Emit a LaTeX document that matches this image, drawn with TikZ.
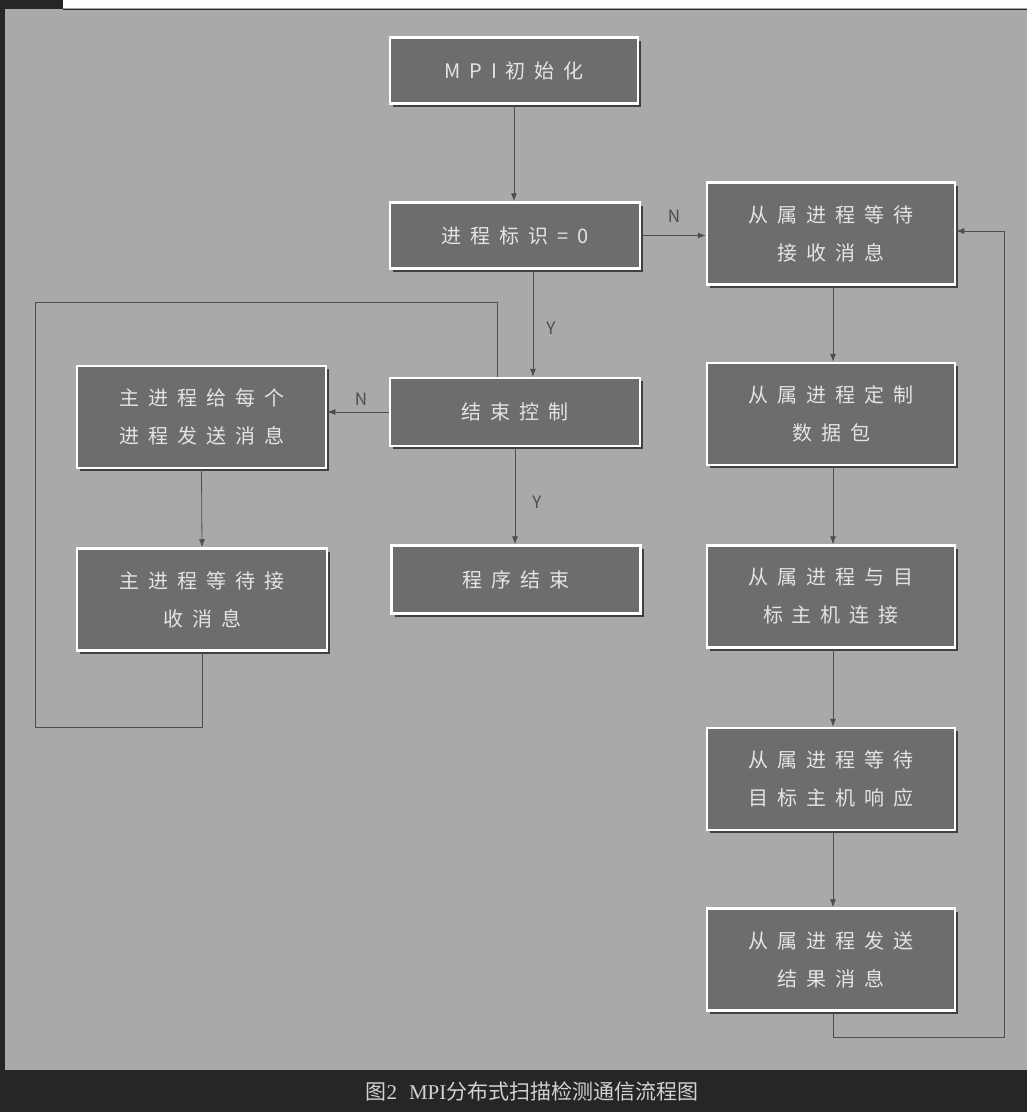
\documentclass[tikz,border=0pt]{standalone}
\usepackage{fontspec}
\newfontfamily\cjk{Noto Sans CJK SC}
\newfontfamily\capser{Liberation Serif}
\usetikzlibrary{arrows.meta,shadows}
\newlength\sprgap \setlength\sprgap{9pt}
\makeatletter
\newcommand\spr[1]{\@tfor\sprch:=#1\do{\sprch\hspace{\sprgap}}\unskip}
\makeatother
\definecolor{bggray}{HTML}{A9A9A9}
\definecolor{boxfill}{HTML}{6D6D6D}
\definecolor{boxtext}{HTML}{E4E4E4}
\definecolor{linec}{HTML}{4E4E4E}
\definecolor{darkband}{HTML}{262626}
\definecolor{captext}{HTML}{D2D2D2}
\begin{document}
\begin{tikzpicture}[x=1pt,y=-1pt,
  box/.style={draw=white, line width=2.5pt, fill=boxfill, text=boxtext,
    minimum width=248pt, inner sep=0pt, align=center,
    font=\cjk\fontsize{20}{38}\selectfont,
    drop shadow={shadow xshift=3pt, shadow yshift=-3pt, fill=black!75, opacity=1}},
  onebox/.style={box, minimum height=66pt},
  twobox/.style={box, minimum height=102pt},
  conn/.style={draw=linec, line width=0.8pt, -{Latex[length=8pt,width=6pt]}},
  plain/.style={draw=linec, line width=0.8pt},
  lbl/.style={text=linec, font=\cjk\fontsize{17}{17}\selectfont, inner sep=0pt}]
% background and frame
\fill[bggray] (0,0) rectangle (1027,1112);
\fill[darkband] (0,0) rectangle (5,1112);
\fill[darkband] (0,1070) rectangle (1027,1112);
\fill[white] (63,0) rectangle (1027,8);
\fill[darkband] (0,0) rectangle (63,9);
\draw[darkband, line width=1pt] (63,9) -- (1027,9);
% boxes
\node[onebox, minimum width=248pt] (b1) at (514,70.5) {\spr{MPI初始化}};
\node[onebox, minimum width=250pt] (b2) at (515,235.5) {\spr{进程标识=0}};
\node[twobox] (b3) at (831,233.5) {\spr{从属进程等待}\\\spr{接收消息}};
\node[onebox, minimum width=250pt, minimum height=68pt] (b4) at (515,412) {\spr{结束控制}};
\node[twobox, minimum width=249pt] (b5) at (201.5,417) {\spr{主进程给每个}\\\spr{进程发送消息}};
\node[twobox, minimum width=250pt] (b6) at (202,599.5) {\spr{主进程等待接}\\\spr{收消息}};
\node[onebox, minimum width=249pt, minimum height=68pt] (b7) at (516,579.5) {\spr{程序结束}};
\node[twobox] (b8) at (831,414) {\spr{从属进程定制}\\\spr{数据包}};
\node[twobox] (b9) at (831,596.5) {\spr{从属进程与目}\\\spr{标主机连接}};
\node[twobox] (b10) at (831,779) {\spr{从属进程等待}\\\spr{目标主机响应}};
\node[twobox] (b11) at (831,959.5) {\spr{从属进程发送}\\\spr{结果消息}};
% helper coordinates
\coordinate (x533) at (533,0);
\coordinate (x833) at (833,0);
\coordinate (lp1) at (35,727);
\coordinate (lp2) at (35,302);
\coordinate (lp3) at (497,302);
\coordinate (rp1) at (1004,1037);
\coordinate (rp2) at (1004,231);
% connectors
\draw[conn] (b1.south) -- (b1.south |- b2.north);
\draw[conn] (b2.east) -- (b2.east -| b3.west);
\draw[conn] (b2.south -| x533) -- (b4.north -| x533);
\draw[conn] (b4.west) -- (b4.west -| b5.east);
\draw[conn] (b4.south) -- (b4.south |- b7.north);
\draw[conn] (b5.south) -- (b6.north);
\draw[conn] (b3.south -| x833) -- (b8.north -| x833);
\draw[conn] (b8.south -| x833) -- (b9.north -| x833);
\draw[conn] (b9.south -| x833) -- (b10.north -| x833);
\draw[conn] (b10.south -| x833) -- (b11.north -| x833);
\draw[plain] (b6.south) |- (lp1) -- (lp2) -- (lp3) -- (lp3 |- b4.north);
\draw[conn] (b11.south -| x833) |- (rp1) -- (rp2) -- (rp2 -| b3.east);
% labels
\node[lbl] (n1) at (674,216) {N};
\node[lbl] (y1) at (551,328) {Y};
\node[lbl] (n2) at (361,399) {N};
\node[lbl] (y2) at (537,502) {Y};
% caption
\node[text=captext, font=\fontsize{21}{21}\selectfont, inner sep=0pt] (cap) at (532,1091)
  {{\cjk 图}{\capser 2\hspace{12pt}MPI}{\cjk 分布式扫描检测通信流程图}};
\end{tikzpicture}
\end{document}
